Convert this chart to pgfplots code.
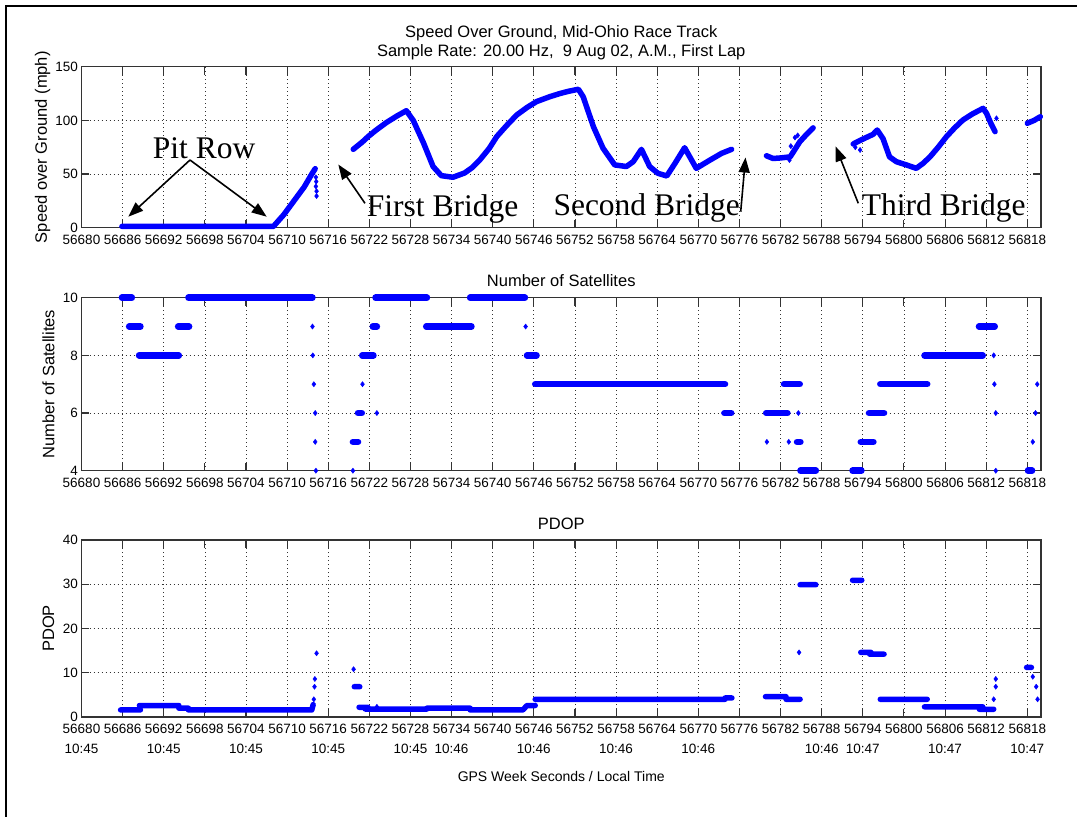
\documentclass[border=0pt]{standalone}
\usepackage{pgfplots}
\pgfplotsset{compat=1.18}
\usetikzlibrary{arrows.meta}
\usepackage{fontspec}
\setmainfont{Liberation Sans}
\newfontfamily\timesfont{Liberation Serif}
\definecolor{mblue}{rgb}{0,0,1}
\pgfplotsset{
  every axis title/.style={at={(0.5,1)}, anchor=base, font=\fontsize{16.5}{19.4}\selectfont},
  every axis y label/.style={at={(axis description cs:-0.0344,0.5)}, rotate=90, anchor=center, font=\fontsize{16.5}{19.4}\selectfont},
  panel/.style={
    scale only axis, width=959.5pt,
    xmin=56680, xmax=56820,
    scaled x ticks=false, scaled y ticks=false,
    xtick={56680,56686,56692,56698,56704,56710,56716,56722,56728,56734,56740,56746,56752,56758,56764,56770,56776,56782,56788,56794,56800,56806,56812,56818},
    xticklabels={56680,56686,56692,56698,56704,56710,56716,56722,56728,56734,56740,56746,56752,56758,56764,56770,56776,56782,56788,56794,56800,56806,56812,56818},
    tick pos=both, tick align=inside, major tick length=8pt,
    xticklabel pos=lower, yticklabel pos=left,
    grid=major,
    major grid style={black!80, line width=0.7pt, dash pattern=on 0.8pt off 3.2pt},
    axis line style={black!80, line width=1.2pt},
    tick style={black!80, line width=1.1pt},
    ticklabel style={font=\fontsize{13.5}{20}\selectfont},
    xticklabel style={align=center, yshift=-3.5pt},
    unbounded coords=jump,
    clip=false,
  },
}
\begin{document}
\begin{tikzpicture}[x=1pt,y=1pt]
\useasboundingbox (0,0) rectangle (1077,-817);
\draw[line width=2pt] (6,-817) -- (6,-6) -- (1077,-6);

% ---------------- Speed over ground ----------------
\begin{axis}[panel, at={(81.5pt,-227.7pt)}, anchor=south west, height=161pt,
  ymin=0, ymax=150, ytick={0,50,100,150}, yticklabels={0,50,100,150},
  ylabel={Speed over Ground (mph)},
  every axis y label/.append style={at={(axis description cs:-0.0406,0.5)}},
  title={Speed Over Ground, Mid-Ohio Race Track\\Sample Rate: 20.00 Hz,\ \ 9 Aug 02, A.M., First Lap},
  title style={align=center, anchor=south, inner sep=0pt, yshift=6.4pt}]
\addplot[mblue, line width=5.5pt, line cap=round, line join=round] coordinates {
(56685.9,1.2)(56690,1.2)(56695,1.2)(56700,1.2)(56705,1.2)(56708,1.2)(56709.5,12)(56711,25)(56712.5,38)(56713.6,50)(56714.1,55)
(56716,nan)
(56719.65,73)(56721.0,80)(56721.84,85)(56723,91)(56724.5,98)(56726,104)(56727.4,109)(56728.4,100)(56729.9,79)(56731.3,57)(56732.5,48.5)(56734.2,47)(56735.9,51)(56737,56)(56738.1,63)(56739.5,74)(56740.6,85)(56742,95)(56743.5,105)(56745,112)(56746.4,117.5)(56748.3,122)(56749.8,125)(56751,127)(56752.5,129)(56753.2,122)(56754.7,94)(56756.1,74)(56757.8,58.5)(56759.5,57)(56760.5,61.5)(56761.7,73)(56762.9,57)(56764.1,50.7)(56765.4,48.2)(56766.6,60)(56768.0,74.5)(56769.7,55.3)(56771.7,63)(56773.4,69.3)(56774.85,73)
(56777,nan)
(56779.95,67)(56780.9,64.5)(56782,65)(56783.4,66)(56784,72)(56784.8,80)(56785.8,87)(56786.75,93)
(56789,nan)
(56792.6,78)(56793.5,81)(56794.5,84)(56795.5,87)(56796.1,91)(56796.95,83)(56797.9,66)(56798.9,61.5)(56800.4,58.4)(56801.8,55.3)(56802.8,60)(56803.8,66)(56805,75)(56806.2,84.8)(56807.4,93)(56808.6,100.3)(56810,106)(56811.55,111.2)(56812.05,106.6)(56812.7,97)(56813.3,89.5)
(56816,nan)
(56818.0,97.3)(56819,100)(56819.9,103.4)
};
\addplot[mblue, only marks, mark=diamond*, mark size=2.6pt] coordinates {
(56714.2,47)(56714.25,43)(56714.2,38.5)(56714.3,34)(56714.3,29.5)(56783.5,76)(56783.9,70)(56784.1,84)(56784.5,86)(56784.2,74)(56783.3,63)(56793.6,72.4)(56813.5,101.9)(56792.9,75)
};
\end{axis}

% ---------------- Number of satellites ----------------
\begin{axis}[panel, at={(81.5pt,-470.7pt)}, anchor=south west, height=173pt,
  ymin=4, ymax=10, ytick={4,6,8,10}, yticklabels={4,6,8,10},
  ylabel={Number of Satellites},
  title={Number of Satellites}, title style={yshift=11pt}]
\addplot[mblue, line width=6.5pt, line cap=round] coordinates {
(56685.9,10)(56687.35,10)(56687,nan)
(56686.95,9)(56688.6,9)(56688,nan)
(56688.4,8)(56694.2,8)(56694,nan)
(56694.1,9)(56695.7,9)(56695,nan)
(56695.6,10)(56713.7,10)(56713,nan)
(56719.6,5)(56720.35,5)(56720,nan)
(56720.35,6)(56720.9,6)(56720,nan)
(56720.96,8)(56722.6,8)(56722,nan)
(56722.5,9)(56723.1,9)(56723,nan)
(56722.9,10)(56730.4,10)(56730,nan)
(56730.3,9)(56736.9,9)(56736,nan)
(56736.7,10)(56744.7,10)(56744,nan)
(56745.0,8)(56746.4,8)(56746,nan)
(56746.2,7)(56773.9,7)(56773,nan)
(56773.8,6)(56774.8,6)(56774,nan)
(56779.9,6)(56783.0,6)(56783,nan)
(56782.5,7)(56784.8,7)(56784,nan)
(56784.4,5)(56784.9,5)(56784,nan)
(56784.9,4)(56787.15,4)(56787,nan)
(56792.5,4)(56793.8,4)(56793,nan)
(56793.7,5)(56795.55,5)(56795,nan)
(56794.9,6)(56797.1,6)(56797,nan)
(56796.55,7)(56803.4,7)(56803,nan)
(56803.0,8)(56811.5,8)(56811,nan)
(56810.95,9)(56813.25,9)(56813,nan)
(56818.1,4)(56818.7,4)
};
\addplot[mblue, only marks, mark=diamond*, mark size=2.6pt] coordinates {
(56713.7,9)(56713.75,8)(56713.9,7)(56714.1,6)(56714.1,5)(56714.2,4)
(56719.6,4)(56721.0,7)(56723.1,6)(56744.8,9)
(56780.0,5)(56783.2,5)(56784.6,6)
(56813.1,8)(56813.2,7)(56813.4,6)(56813.4,4)
(56818.8,5)(56819.2,6)(56819.45,7)
};
\end{axis}

% ---------------- PDOP ----------------
\begin{axis}[panel, at={(81.5pt,-717pt)}, anchor=south west, height=177pt,
  ymin=0, ymax=40, ytick={0,10,20,30,40}, yticklabels={0,10,20,30,40},
  ylabel={PDOP},
  title={PDOP}, title style={yshift=10.7pt},
  xticklabels={{56680\\10:45},56686,{56692\\10:45},56698,{56704\\10:45},56710,{56716\\10:45},56722,{56728\\10:45},{56734\\10:46},56740,{56746\\10:46},56752,{56758\\10:46},56764,{56770\\10:46},56776,56782,{56788\\10:46},{56794\\10:47},56800,{56806\\10:47},56812,{56818\\10:47}},
  xlabel={GPS Week Seconds / Local Time},
  every axis x label/.style={at={(axis description cs:0.5,0)}, anchor=base, yshift=-64.7pt, font=\fontsize{14}{16}\selectfont}]
\addplot[mblue, line width=5.5pt, line cap=round, line join=round] coordinates {
(56685.7,1.6)(56688.6,1.6)(56688,nan)
(56688.45,2.6)(56694.2,2.6)(56694,nan)
(56694.2,2.0)(56695.6,2.0)(56695,nan)
(56695.6,1.6)(56713.6,1.6)(56713.8,2.8)(56713,nan)
(56719.8,6.85)(56720.6,6.85)(56720,nan)
(56720.5,2.2)(56721.8,2.2)(56721,nan)
(56721.4,1.8)(56730.4,1.8)(56730,nan)
(56730.4,2.0)(56736.7,2.0)(56736,nan)
(56736.7,1.6)(56744.4,1.6)(56745.0,2.6)(56746.2,2.6)(56746,nan)
(56746.2,4.0)(56773.9,4.0)(56773,nan)
(56773.9,4.3)(56774.9,4.3)(56774,nan)
(56779.8,4.6)(56782.8,4.6)(56782,nan)
(56782.8,4.0)(56784.85,4.0)(56784,nan)
(56784.85,29.9)(56787.15,29.9)(56787,nan)
(56792.5,30.9)(56793.85,30.9)(56793,nan)
(56793.7,14.6)(56795.2,14.6)(56795,nan)
(56795.0,14.2)(56797.1,14.2)(56797,nan)
(56796.55,4.0)(56803.4,4.0)(56803,nan)
(56803.0,2.3)(56811.5,2.3)(56811,nan)
(56811.0,1.75)(56813.1,1.75)(56813,nan)
(56817.9,11.2)(56818.6,11.2)
};
\addplot[mblue, only marks, mark=diamond*, mark size=2.6pt] coordinates {
(56713.9,4.0)(56714.0,6.85)(56714.05,8.6)(56714.3,14.4)
(56719.7,10.8)(56723.1,2.3)
(56784.7,14.6)
(56813.1,4.0)(56813.4,6.85)(56813.4,8.6)
(56818.8,9.1)(56819.3,6.85)(56819.5,4.0)
};
\end{axis}

% ---------------- annotations ----------------
\tikzset{ann/.style={anchor=base west, inner sep=0pt, font=\timesfont\fontsize{31.5}{36}\selectfont},
         arr/.style={line width=1.6pt, -{Triangle[length=15pt,width=11pt]}}}
\node[ann] at (152.7,-158.3) {Pit Row};
\draw[arr] (190,-160) -- (128.3,-216.7);
\draw[arr] (190,-160) -- (266.7,-216.7);
\node[ann] at (366.7,-216) {First Bridge};
\draw[arr] (365,-203.3) -- (338.3,-164.5);
\node[ann] at (553.3,-215.5) {Second Bridge};
\draw[arr] (740.7,-211.7) -- (745.5,-157.5);
\node[ann] at (861.7,-215.5) {Third Bridge};
\draw[arr] (858.3,-203.3) -- (835.5,-146.3);
\end{tikzpicture}
\end{document}
